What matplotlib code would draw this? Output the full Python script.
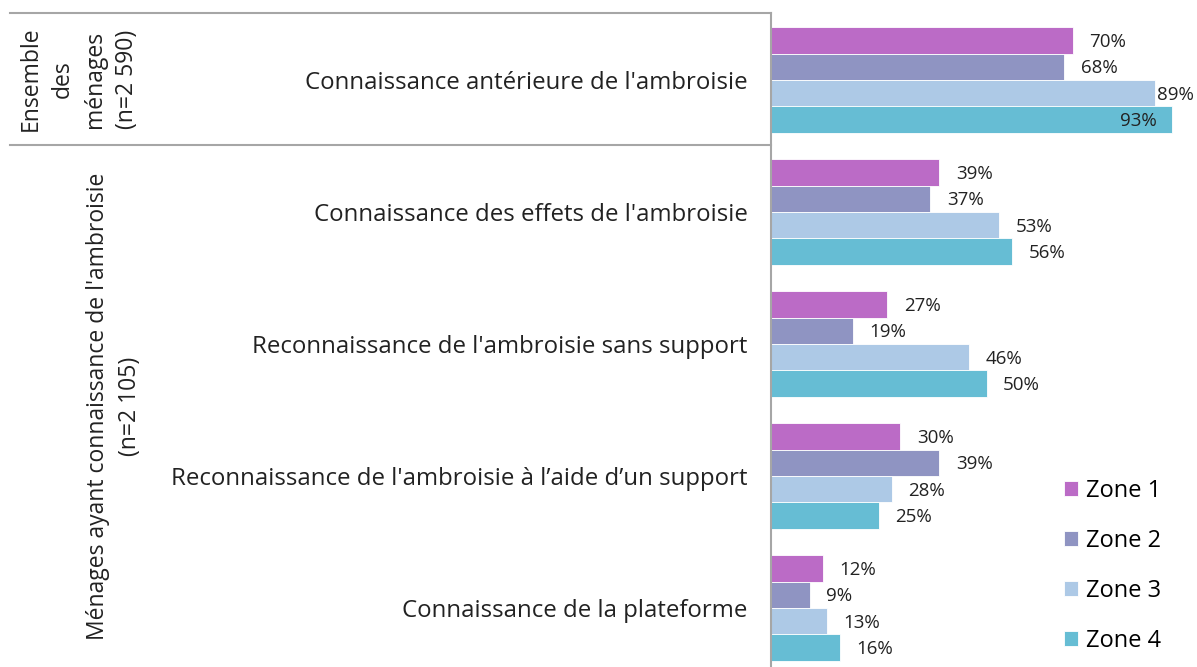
import numpy as np
import matplotlib.pyplot as plt
from matplotlib.lines import Line2D

plt.rcParams['font.family'] = ['Open Sans', 'DejaVu Sans']

categories = ["Connaissance antérieure de l'ambroisie",
              "Connaissance des effets de l'ambroisie",
              "Reconnaissance de l'ambroisie sans support",
              "Reconnaissance de l'ambroisie à l’aide d’un support",
              "Connaissance de la plateforme"]
zones = ['Zone 1', 'Zone 2', 'Zone 3', 'Zone 4']
zone1 = [70, 39, 27, 30, 12]
zone2 = [68, 37, 19, 39, 9]
zone3 = [89, 53, 46, 28, 13]
zone4 = [93, 56, 50, 25, 16]
colors = ['#BB6BC6', '#8F94C2', '#ADC9E6', '#66BDD4']

W, H = 1197, 667
fig = plt.figure(figsize=(W / 100, H / 100), dpi=100)

def fx(px):
    return px / W

def fy(py):
    return 1 - py / H

ax = fig.add_axes([fx(771), 0, 1 - fx(771), fy(13)])

bh = 0.2
y = np.arange(len(categories))
series = [zone1, zone2, zone3, zone4]
for i, (vals, col, name) in enumerate(zip(series, colors, zones)):
    pos = y - 1.5 * bh + i * bh
    ax.barh(pos, vals, height=bh, color=col, edgecolor='white', linewidth=0.6, label=name)
    for p, v in zip(pos, vals):
        if v >= 90:
            # the longest bar gets its label inside
            ax.annotate(f'{v}%', (v, p), xytext=(-11, -1), textcoords='offset points',
                        ha='right', va='center', fontsize=13.5, color='#222222')
        elif v >= 85:
            ax.annotate(f'{v}%', (v, p), xytext=(2, -1), textcoords='offset points',
                        ha='left', va='center', fontsize=13.5, color='#222222')
        else:
            ax.annotate(f'{v}%', (v, p), xytext=(12, -1), textcoords='offset points',
                        ha='left', va='center', fontsize=13.5, color='#222222')

ax.set_xlim(0, (W - 771) / 4.31)
ax.set_ylim(4 + 59 / 132, -67 / 132)
ax.set_xticks([])
ax.set_yticks(y)
ax.set_yticklabels(categories, fontsize=17.3, color='#222222')
ax.tick_params(axis='y', length=0, pad=17)
for s in ['top', 'right', 'bottom']:
    ax.spines[s].set_visible(False)
ax.spines['left'].set_color('#A6A6A6')
ax.spines['left'].set_linewidth(1.5)

# separators of the left label area
for py in [13, 145]:
    fig.add_artist(Line2D([fx(10), fx(771)], [fy(py), fy(py)], color='#A6A6A6', lw=1.5))

fig.text(fx(79), fy(79), 'Ensemble\ndes\nménages\n(n=2 590)', rotation=90,
         ha='center', va='center', multialignment='center', fontsize=16.5,
         color='#222222', linespacing=1.45)
fig.text(fx(114), fy(406), "Ménages ayant connaissance de l'ambroisie\n(n=2 105)",
         rotation=90, ha='center', va='center', multialignment='center',
         fontsize=16.5, color='#222222', linespacing=1.45)

fig.legend(loc='center left', bbox_to_anchor=(fx(1064), fy(566)), frameon=False,
           fontsize=17, handlelength=0.6, handleheight=0.6, handletextpad=0.35,
           labelspacing=1.1, borderaxespad=0, borderpad=0)

fig.savefig('out.png', dpi=100)
